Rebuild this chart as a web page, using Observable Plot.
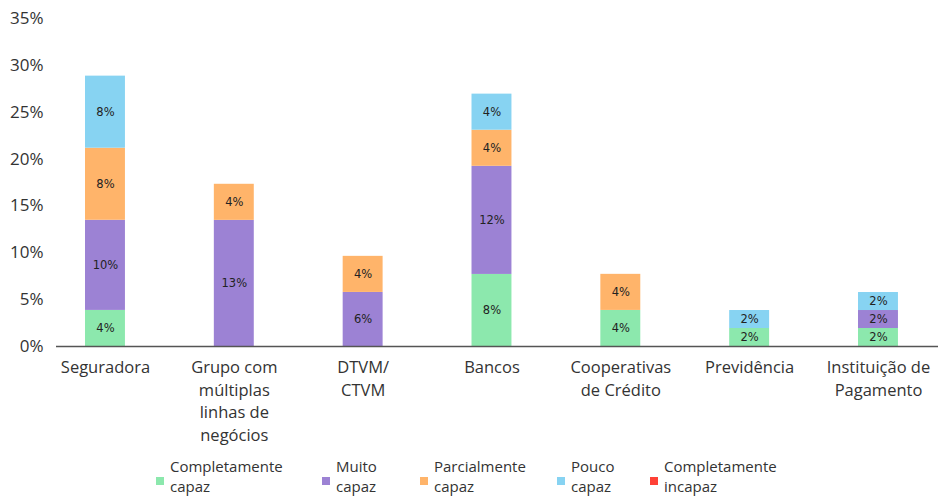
<!DOCTYPE html>
<html>
<head>
<meta charset="utf-8">
<script src="https://cdn.jsdelivr.net/npm/d3@7"></script>
<script src="https://cdn.jsdelivr.net/npm/@observablehq/plot@0.6"></script>
<style>
  body { margin: 0; background: #fff; font-family: "Open Sans", sans-serif; }
  #chart { width: 938px; }
  #legend { position: relative; width: 938px; height: 45px; }
  .item { position: absolute; top: 4px; font-size: 15px; line-height: 20px; color: #333; }
  .item .sw { position: absolute; left: -14px; top: 21px; width: 8px; height: 8px; }
  .item:nth-child(1) { left: 170px; }
  .item:nth-child(2) { left: 336px; }
  .item:nth-child(3) { left: 434px; }
  .item:nth-child(4) { left: 571px; }
  .item:nth-child(5) { left: 664px; }
</style>
</head>
<body>
<div id="chart"></div>
<div id="legend"></div>
<script>
const categories = ["Seguradora", "Grupo", "DTVM", "Bancos", "Cooperativas", "Previdência", "Instituição"];
const tickLabels = ["Seguradora", "Grupo com\nmúltiplas\nlinhas de\nnegócios", "DTVM/\nCTVM", "Bancos", "Cooperativas\nde Crédito", "Previdência", "Instituição de\nPagamento"];
const seriesNames = ["Completamente capaz", "Muito capaz", "Parcialmente capaz", "Pouco capaz", "Completamente incapaz"];
const legendLabels = ["Completamente\ncapaz", "Muito\ncapaz", "Parcialmente\ncapaz", "Pouco\ncapaz", "Completamente\nincapaz"];
const seriesColors = ["#8CE8AD", "#9C82D4", "#FFB46A", "#87D3F2", "#FF4136"];

const completamenteCapaz   = [3.85, 0,     0,    7.69,  3.85, 1.92, 1.92];
const muitoCapaz           = [9.62, 13.46, 5.77, 11.54, 0,    0,    1.92];
const parcialmenteCapaz    = [7.69, 3.85,  3.85, 3.85,  3.85, 0,    0];
const poucoCapaz           = [7.69, 0,     0,    3.85,  0,    1.92, 1.92];
const completamenteIncapaz = [0,    0,     0,    0,     0,    0,    0];
const yTicks = [0, 5, 10, 15, 20, 25, 30, 35];

const seriesValues = [completamenteCapaz, muitoCapaz, parcialmenteCapaz, poucoCapaz, completamenteIncapaz];
const data = [];
seriesNames.forEach((s, si) => {
  categories.forEach((c, ci) => data.push({cat: c, series: s, v: seriesValues[si][ci]}));
});
const labelOf = new Map(categories.map((c, i) => [c, tickLabels[i]]));

const chart = Plot.plot({
  width: 938,
  height: 452,
  marginLeft: 56,
  marginRight: 0,
  marginTop: 18,
  marginBottom: 106,
  style: {fontFamily: "'Open Sans', sans-serif", color: "#333", background: "#fff"},
  x: {domain: categories, paddingInner: 0.69, paddingOuter: 0.268, align: 0.42, round: false, axis: null},
  y: {domain: [0, 35], ticks: yTicks, tickFormat: d => d + "%", tickSize: 0, tickPadding: 13, label: null, fontSize: 17},
  color: {domain: seriesNames, range: seriesColors},
  marks: [
    Plot.axisY({ticks: yTicks, tickFormat: d => d + "%", tickSize: 0, tickPadding: 13, fontSize: 17, fill: "#333", label: null}),
    Plot.barY(data, Plot.stackY({x: "cat", y: "v", fill: "series", z: "series", order: seriesNames})),
    Plot.text(data.filter(d => d.v > 0), Plot.stackY({x: "cat", y: "v", z: "series", order: seriesNames, text: d => Math.round(d.v) + "%", fontFamily: "DejaVu Sans", fontSize: 11.5, fill: "#222"})),
    Plot.ruleY([0], {stroke: "#555", strokeWidth: 1.5}),
    Plot.text(categories, {x: d => d, y: () => 0, text: d => labelOf.get(d), lineAnchor: "top", dy: 11, lineHeight: 1.36, fontSize: 16.5, fill: "#333", fontFamily: "'Open Sans', sans-serif"})
  ]
});
document.getElementById("chart").appendChild(chart);

const legend = document.getElementById("legend");
seriesNames.forEach((s, i) => {
  const it = document.createElement("div");
  it.className = "item";
  const sw = document.createElement("span");
  sw.className = "sw";
  sw.style.background = seriesColors[i];
  it.appendChild(sw);
  legendLabels[i].split("\n").forEach(line => {
    const l = document.createElement("div");
    l.textContent = line;
    it.appendChild(l);
  });
  legend.appendChild(it);
});
</script>
</body>
</html>
